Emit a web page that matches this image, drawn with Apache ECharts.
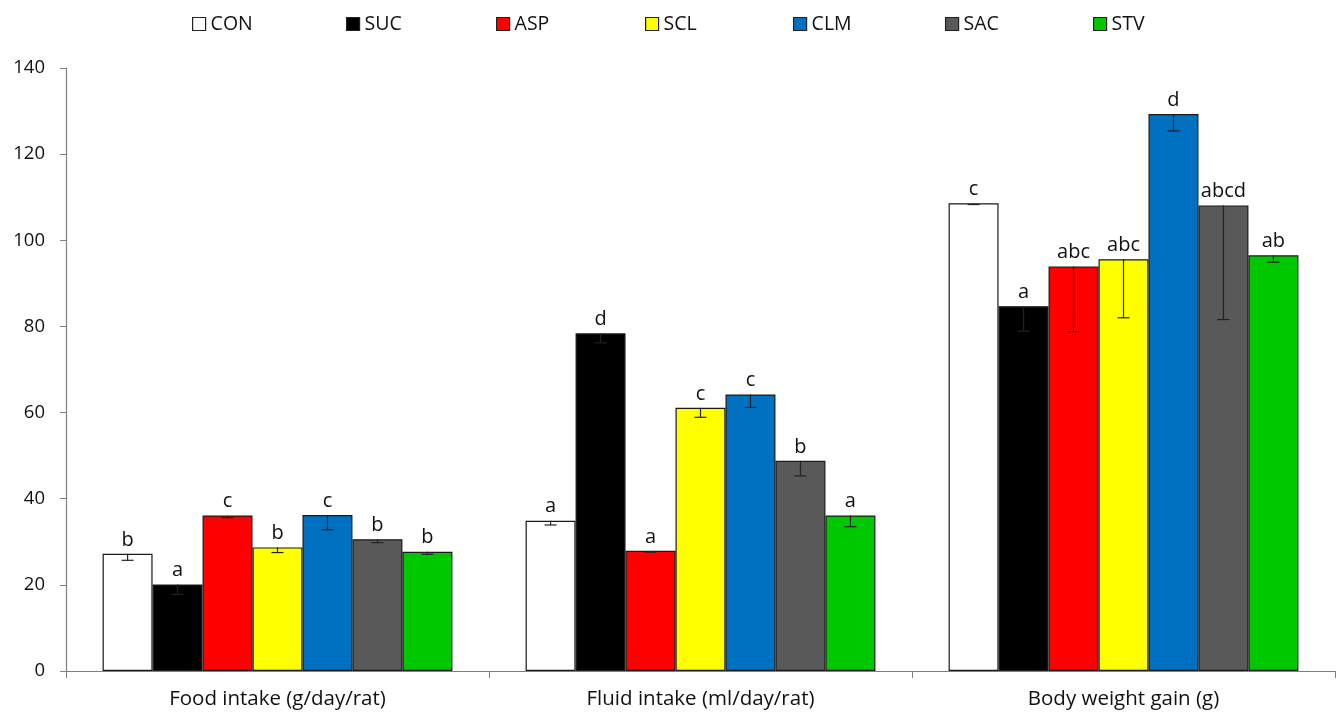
<!DOCTYPE html>
<html>
<head>
<meta charset="utf-8">
<script src="https://cdn.jsdelivr.net/npm/echarts@6/dist/echarts.min.js"></script>
<style>
  html, body { margin: 0; padding: 0; background: #fff; }
  #chart { width: 1340px; height: 715px; }
</style>
</head>
<body>
<div id="chart"></div>
<script>
// Outcome measures on the x axis
const categories = ['Food intake (g/day/rat)', 'Fluid intake (ml/day/rat)', 'Body weight gain (g)'];

// Treatment groups
const groups = ['CON', 'SUC', 'ASP', 'SCL', 'CLM', 'SAC', 'STV'];
const groupColors = ['#FFFFFF', '#000000', '#FF0000', '#FFFF00', '#0070C0', '#595959', '#00C800'];

// Means per group: [food, fluid, body weight gain]
const meanCON = [27.2, 34.9, 108.6];
const meanSUC = [20.1, 78.4, 84.7];
const meanASP = [36.1, 27.9, 93.9];
const meanSCL = [28.7, 61.1, 95.6];
const meanCLM = [36.2, 64.2, 129.3];
const meanSAC = [30.6, 48.8, 108.1];
const meanSTV = [27.7, 36.1, 96.5];

// Error (shown below the mean)
const errCON = [1.5, 1.0, 0.3];
const errSUC = [2.3, 2.2, 5.8];
const errASP = [0.5, 0.3, 15.1];
const errSCL = [1.2, 2.2, 13.6];
const errCLM = [3.4, 3.0, 3.9];
const errSAC = [0.8, 3.5, 26.5];
const errSTV = [0.6, 2.6, 1.6];

// Significance letters
const letCON = ['b', 'a', 'c'];
const letSUC = ['a', 'd', 'a'];
const letASP = ['c', 'a', 'abc'];
const letSCL = ['b', 'c', 'abc'];
const letCLM = ['c', 'c', 'd'];
const letSAC = ['b', 'b', 'abcd'];
const letSTV = ['b', 'a', 'ab'];

// Y axis ticks
const yMin = 0, yMax = 140, yStep = 20;

const means = [meanCON, meanSUC, meanASP, meanSCL, meanCLM, meanSAC, meanSTV];
const errs = [errCON, errSUC, errASP, errSCL, errCLM, errSAC, errSTV];
const letters = [letCON, letSUC, letASP, letSCL, letCLM, letSAC, letSTV];

const FONT = '"Open Sans", sans-serif';
const CAT_GAP = 0.173;
const nGroups = groups.length;

// Left edge of each legend entry
const legendLeft = [187, 341, 491, 640, 788, 940, 1088];

const series = [];
groups.forEach((g, s) => {
  series.push({
    name: g,
    type: 'bar',
    barCategoryGap: (CAT_GAP * 100) + '%',
    barGap: '0%',
    data: means[s],
    itemStyle: { color: groupColors[s], borderColor: '#1a1a1a', borderWidth: 1.2 },
    label: {
      show: true,
      position: 'top',
      distance: 4,
      fontFamily: FONT,
      fontSize: 20,
      color: '#111',
      formatter: p => letters[s][p.dataIndex]
    },
    emphasis: { disabled: true },
    z: 2
  });
});

// Minus-only error bars drawn on top of the bars
groups.forEach((g, s) => {
  series.push({
    type: 'custom',
    name: g + '-err',
    data: categories.map((c, i) => [i, means[s][i], means[s][i] - errs[s][i]]),
    renderItem: (params, api) => {
      const ci = api.value(0);
      const top = api.coord([ci, api.value(1)]);
      const bot = api.coord([ci, api.value(2)]);
      const band = api.size([1, 0])[0];
      const bw = band * (1 - CAT_GAP) / nGroups;
      const x = top[0] + (s - (nGroups - 1) / 2) * bw;
      const cap = 6;
      const style = { stroke: '#222', lineWidth: 1.2 };
      return {
        type: 'group',
        children: [
          { type: 'line', shape: { x1: x, y1: top[1], x2: x, y2: bot[1] }, style },
          { type: 'line', shape: { x1: x - cap, y1: bot[1], x2: x + cap, y2: bot[1] }, style }
        ]
      };
    },
    z: 5,
    silent: true
  });
});

// One legend component per group so entries sit at fixed spacing
const legends = groups.map((g, i) => ({
  data: [{ name: g, itemStyle: { borderColor: '#222', borderWidth: 1.2 } }],
  top: 9,
  left: legendLeft[i],
  icon: 'rect',
  itemWidth: 13,
  itemHeight: 13,
  itemTextGap: 4,
  selectedMode: false,
  textStyle: { fontFamily: FONT, fontSize: 19.5, color: '#111' }
}));

const chart = echarts.init(document.getElementById('chart'));
chart.setOption({
  animation: false,
  backgroundColor: '#fff',
  legend: legends,
  grid: { left: 66, right: 5, top: 68, bottom: 44, containLabel: false },
  xAxis: {
    type: 'category',
    data: categories,
    axisLine: { lineStyle: { color: '#808080', width: 1.2 } },
    axisTick: { show: true, length: 7, lineStyle: { color: '#808080' } },
    axisLabel: { fontFamily: FONT, fontSize: 20.5, color: '#111', margin: 18 }
  },
  yAxis: {
    type: 'value',
    min: yMin,
    max: yMax,
    interval: yStep,
    axisLine: { show: true, lineStyle: { color: '#808080', width: 1.2 } },
    axisTick: { show: true, length: 6, inside: false, lineStyle: { color: '#808080' } },
    splitLine: { show: false },
    axisLabel: { fontFamily: FONT, fontSize: 18.5, color: '#111', margin: 21 }
  },
  series
});
</script>
</body>
</html>
